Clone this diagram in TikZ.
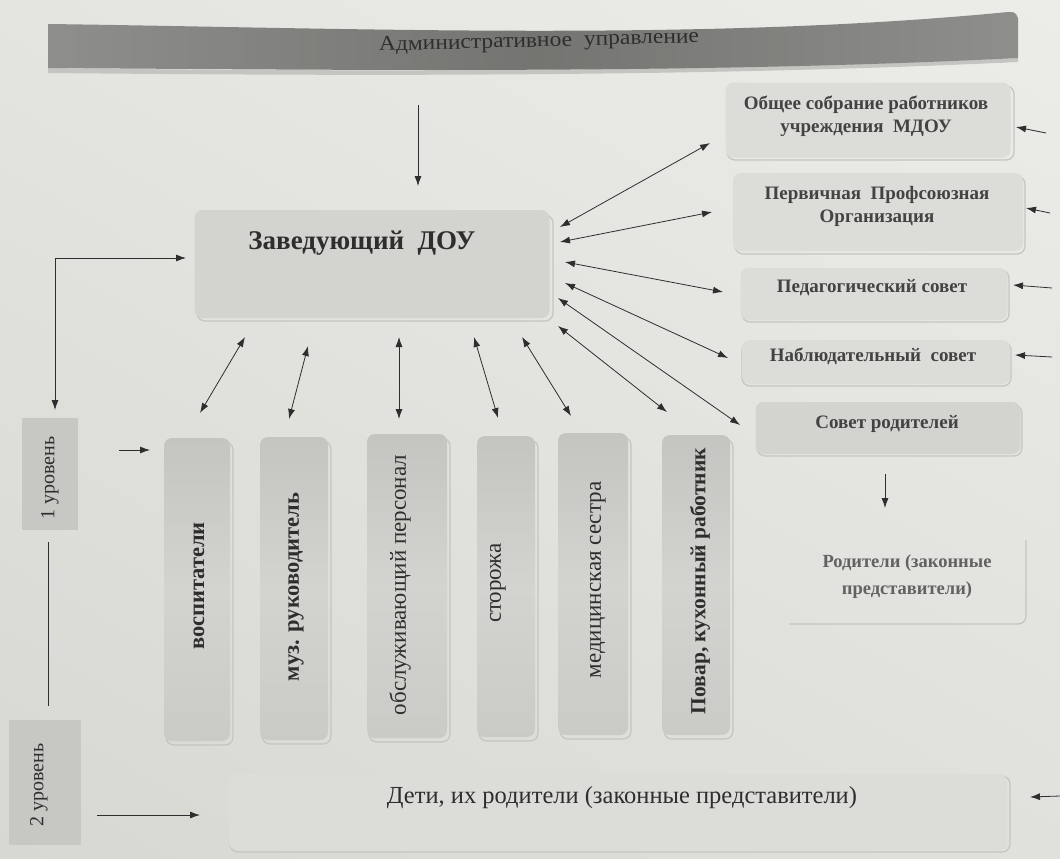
\documentclass[tikz,border=0pt]{standalone}
\usepackage{fontspec}
\setmainfont{Liberation Serif}
\usetikzlibrary{arrows.meta,shadings}
\definecolor{bg}{HTML}{E3E3DF}
\definecolor{bgll}{HTML}{D8D8D3}
\definecolor{bgur}{HTML}{ECECE9}
\definecolor{bgul}{HTML}{E4E4E0}
\definecolor{bglr}{HTML}{E0E0DC}
\definecolor{boxfill}{HTML}{D3D3CF}
\definecolor{boxlight}{HTML}{DCDCD8}
\definecolor{boxdark}{HTML}{C4C4C0}
\definecolor{shadowc}{HTML}{C4C4C0}
\definecolor{bannerc}{HTML}{7A7A77}
\definecolor{inkc}{HTML}{2E2E2E}
\tikzset{
  box/.style={rounded corners=8, fill=boxfill, draw=none},
  lightbox/.style={rounded corners=8, fill=boxlight, draw=none},
  vbox/.style={rounded corners=8, top color=boxdark, bottom color=boxdark!80!bg, middle color=boxfill, draw=none},
  shadowline/.style={draw=shadowc, line width=1.2, rounded corners=8},
  arr/.style={draw=inkc, line width=0.8, -{Latex[length=10,width=7]}},
  darr/.style={draw=inkc, line width=0.8, {Latex[length=10,width=7]}-{Latex[length=10,width=7]}},
  rtext/.style={font=\bfseries\fontsize{19}{23}\selectfont, text=inkc!90, align=center},
  vtext/.style={font=\bfseries\fontsize{22.5}{24}\selectfont, text=inkc, rotate=90},
  vtextr/.style={font=\fontsize{23}{24}\selectfont, text=inkc, rotate=90},
  lvltext/.style={font=\fontsize{20}{22}\selectfont, text=inkc, rotate=90},
}
\begin{document}
\begin{tikzpicture}[x=1pt,y=-1pt]
\shade[lower left=bgll, upper right=bgur, upper left=bgul, lower right=bglr] (0,0) rectangle (1060,859);
\useasboundingbox (0,0) rectangle (1060,859);

% banner
\fill[shadowc] (48,68) .. controls (350,72) and (700,72) .. (1018,58) -- (1018,62) .. controls (700,77) and (350,76) .. (48,73) -- cycle;
\shade[left color=bannerc!85!white, right color=bannerc!85!white, middle color=bannerc!95!black] (48,24) .. controls (350,28) and (700,42) .. (1008,12) .. controls (1015,12) .. (1018,18) -- (1018,58) .. controls (700,74) and (350,70) .. (48,68) -- cycle;
\node[font=\fontsize{21}{24}\selectfont, text=inkc, rotate=1.5, xscale=1.12] (banner) at (539,42) {Административное \ управление};

% manager
\draw[shadowline] (197,215) rectangle (553,321);
\node[box, minimum width=355, minimum height=108] (mgr) at (372,264) {};
\node[font=\bfseries\fontsize{27}{30}\selectfont, text=inkc] (mgrtext) at (362,243) {Заведующий\ \ ДОУ};

\coordinate (topin) at (418,105);
\draw[arr] (topin) -- (418,186) coordinate (topout);

% right boxes
\draw[shadowline] (727,86) rectangle (1014,160);
\node[lightbox, minimum width=285, minimum height=75] (r1) at (868,120) {};
\node[rtext] (r1t) at (866,116) {Общее собрание работников\\учреждения \ МДОУ};
\draw[shadowline] (735,176) rectangle (1025,254);
\node[lightbox, minimum width=290, minimum height=78] (r2) at (878,212) {};
\node[rtext] (r2t) at (877,206) {Первичная \ Профсоюзная\\Организация};
\draw[shadowline] (742,270) rectangle (1009,322);
\node[lightbox, minimum width=267, minimum height=52] (r3) at (874,294) {};
\node[rtext] (r3t) at (872,288) {Педагогический совет};
\draw[shadowline] (742,342) rectangle (1011,386);
\node[lightbox, minimum width=268, minimum height=44] (r4) at (876,362) {};
\node[rtext] (r4t) at (873,356) {Наблюдательный \ совет};
\draw[shadowline] (757,405) rectangle (1022,456);
\node[box, minimum width=265, minimum height=52] (r5) at (888,428) {};
\node[rtext] (r5t) at (887,424) {Совет родителей};

\draw[arr] (885,474) coordinate (r5down) -- (885,508) coordinate (parin);
\draw[draw=shadowc, line width=1.2, rounded corners=8] (1026,540) -- (1026,624) -- (789,624);
\node[rtext, font=\bfseries\fontsize{18.5}{27}\selectfont, text=inkc!75] (par) at (907,577) {Родители (законные\\представители)};

% right incoming arrows
\draw[arr] (1046,133) coordinate (in1) -- (1016,127);
\draw[arr] (1050,213) coordinate (in2) -- (1026,208);
\draw[arr] (1052,288) coordinate (in3) -- (1013,285);
\draw[arr] (1052,357) coordinate (in4) -- (1015,355);
\draw[arr] (1060,796) coordinate (in5) -- (1030,797);

% manager to right boxes
\draw[darr] (560,227) coordinate (m1) -- (710,143) coordinate (e1);
\draw[darr] (560,242) coordinate (m2) -- (712,212) coordinate (e2);
\draw[darr] (565,262) coordinate (m3) -- (723,292) coordinate (e3);
\draw[darr] (565,283) coordinate (m4) -- (728,358) coordinate (e4);
\draw[darr] (558,298) coordinate (m5) -- (740,425) coordinate (e5);

% manager to vertical boxes
\draw[darr] (245,337) coordinate (v1a) -- (200,413) coordinate (v1b);
\draw[darr] (308,346) coordinate (v2a) -- (289,419) coordinate (v2b);
\draw[darr] (399,337) coordinate (v3a) -- (399,419) coordinate (v3b);
\draw[darr] (474,337) coordinate (v4a) -- (498,418) coordinate (v4b);
\draw[darr] (522,337) coordinate (v5a) -- (571,416) coordinate (v5b);
\draw[darr] (558,326) coordinate (v6a) -- (667,412) coordinate (v6b);

% left connectors
\coordinate (corner) at (55,258);
\draw[arr] (corner) -- (186,258);
\draw[arr] (corner) -- (55,410);

% levels
\node[fill=boxdark!90!bg, minimum width=56, minimum height=112, inner sep=0] (lvl1) at (50,474) {};
\node[lvltext] (lvl1t) at (50,478) {1 уровень};
\draw[draw=inkc, line width=0.8] (48,542) coordinate (l1) -- (48,706) coordinate (l2);
\node[fill=boxdark!90!bg, minimum width=72, minimum height=125, inner sep=0] (lvl2) at (45,782) {};
\node[lvltext] (lvl2t) at (39,785) {2 уровень};
\draw[arr] (97,815) coordinate (l2a) -- (200,815);
\draw[arr] (119,450) coordinate (l1a) -- (150,450);

% vertical boxes
\foreach \nm/\cx/\w/\t/\b in {va/197/66/438/741, vb/294/68/437/740, vc/407/80/434/738, vd/506/58/436/737, ve/593/70/433/735, vf/696/68/435/735} {
  \draw[shadowline] (\cx-\w/2+2,\t+4) rectangle (\cx+\w/2+3,\b+4);
  \node[vbox, minimum width=\w, minimum height=\b-\t] (\nm) at (\cx,{(\t+\b)/2}) {};
}
\node[vtext] (vat) at (199,586) {воспитатели};
\node[vtext] (vbt) at (296,587) {муз. руководитель};
\node[vtextr] (vct) at (400,585) {обслуживающий персонал};
\node[vtextr] (vdt) at (498,583) {сторожа};
\node[vtextr] (vet) at (598,580) {медицинская сестра};
\node[vtext, font=\bfseries\fontsize{21.5}{24}\selectfont] (vft) at (700,581) {Повар, кухонный работник};

% bottom box
\draw[shadowline] (230,776) rectangle (1010,852);
\node[box, fill=boxlight, minimum width=778, minimum height=76] (kids) at (618,812) {};
\node[font=\fontsize{24.5}{28}\selectfont, text=inkc] (kidst) at (622,798) {Дети, их родители (законные представители)};
\end{tikzpicture}
\end{document}
